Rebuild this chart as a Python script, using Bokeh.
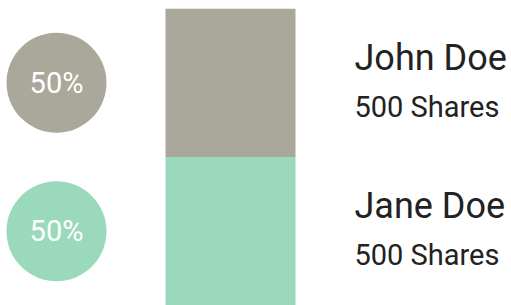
from bokeh.plotting import figure
from bokeh.models import ColumnDataSource, Range1d
from bokeh.core.properties import value
from bokeh.embed import file_html
from bokeh.resources import INLINE

names = ["John Doe", "Jane Doe"]
shares = [500, 500]
colors = ["#aaa89a", "#9ad9bb"]

total = sum(shares)
# stacked: first holder on top
tops, bottoms, mids = [], [], []
cur = total
for s in shares:
    tops.append(cur)
    bottoms.append(cur - s)
    mids.append(cur - s / 2)
    cur -= s
pct = [f"{round(s / total * 100)}%" for s in shares]
share_labels = [f"{s} Shares" for s in shares]

W, H = 511, 305
PAD = 8
p = figure(width=W, height=H, output_backend="svg", toolbar_location=None,
           x_range=Range1d(-PAD, W - PAD), y_range=Range1d(0, total),
           min_border=0, min_border_top=PAD,
           outline_line_color=None)
p.axis.visible = False
p.grid.visible = False

src = ColumnDataSource(dict(top=tops, bottom=bottoms, mid=mids, color=colors,
                            pct=pct, name=names, sh=share_labels,
                            bx=[222] * len(shares), cx=[48] * len(shares),
                            tx=[346] * len(shares)))

p.vbar(x="bx", width=130, top="top", bottom="bottom", color="color", source=src,
       line_color=None)
p.scatter(x="cx", y="mid", size=100, color="color", line_color=None, source=src)
p.text(x="cx", y="mid", text="pct", text_color="white", text_font=value("Roboto"),
       text_font_size="29px", text_align="center", text_baseline="middle", source=src)
p.text(x="tx", y="mid", text="name", text_color="#222222", text_font=value("Roboto"),
       text_font_size="36px", text_align="left", text_baseline="alphabetic",
       y_offset=-25, source=src)
p.text(x="tx", y="mid", text="sh", text_color="#222222", text_font=value("Roboto"),
       text_font_size="29px", text_align="left", text_baseline="alphabetic",
       y_offset=24, source=src)

open("out.html", "w").write(file_html(p, INLINE))
